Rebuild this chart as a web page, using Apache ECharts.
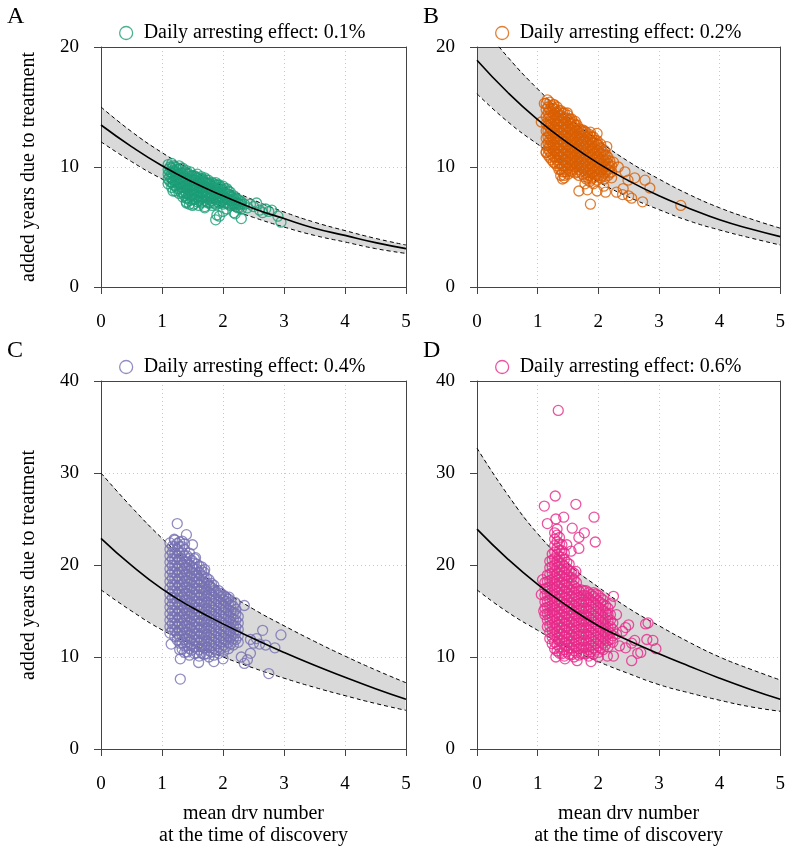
<!DOCTYPE html>
<html><head><meta charset="utf-8">
<script src="https://cdn.jsdelivr.net/npm/echarts@6/dist/echarts.min.js"></script>
<style>html,body{margin:0;padding:0;background:#fff}#c{width:788px;height:848px}</style>
</head><body><div id="c"></div>
<script>
// ---- curve x positions ----
const curveX = [0,0.5,1,1.5,2,2.5,3,3.5,4,4.5,5];
// ---- panel A (0.1%) ----
const aMid = [13.5,11.7,10.1,8.75,7.6,6.55,5.7,4.9,4.3,3.7,3.2];
const aUp  = [15.0,12.95,11.2,9.7,8.4,7.25,6.25,5.4,4.7,4.05,3.5];
const aLow = [12.1,10.45,9.0,7.8,6.7,5.8,5.0,4.3,3.75,3.2,2.8];
// ---- panel B (0.2%) ----
const bMid = [18.9,16.25,13.95,12.0,10.3,8.85,7.6,6.55,5.6,4.85,4.2];
const bUp  = [22.3,19.2,16.5,14.15,12.2,10.45,9.0,7.7,6.6,5.7,4.9];
const bLow = [16.1,13.8,11.9,10.2,8.75,7.5,6.45,5.5,4.75,4.1,3.5];
// ---- panel C (0.4%) ----
const cMid = [22.9,19.95,17.4,15.35,13.6,12.0,10.5,9.1,7.8,6.55,5.4];
const cUp  = [30.0,26.3,22.9,19.9,17.3,15.2,13.4,11.7,10.1,8.6,7.2];
const cLow = [17.3,15.0,12.95,11.35,10.0,8.8,7.7,6.7,5.8,4.95,4.2];
// ---- panel D (0.6%) ----
const dMid = [23.9,20.7,17.9,15.5,13.4,11.8,10.35,9.0,7.7,6.5,5.4];
const dUp  = [32.7,27.7,23.4,20.1,17.6,15.3,13.4,11.6,10.0,8.7,7.5];
const dLow = [17.3,14.9,12.9,11.0,9.5,8.2,7.0,6.1,5.3,4.6,4.1];

// ---- scatter points [mean drv number, added years] ----
const ptsA = [
[1.10,8.6],[1.10,9.0],[1.10,9.4],[1.10,9.8],[1.10,10.2],
[1.16,8.3],[1.16,8.7],[1.16,9.1],[1.16,9.5],[1.16,9.9],[1.16,10.3],
[1.22,8.0],[1.22,8.4],[1.22,8.8],[1.22,9.2],[1.22,9.6],[1.22,10.0],
[1.28,7.8],[1.28,8.2],[1.28,8.6],[1.28,9.0],[1.28,9.4],[1.28,9.8],[1.28,10.1],
[1.34,7.5],[1.34,7.9],[1.34,8.3],[1.34,8.7],[1.34,9.1],[1.34,9.5],[1.34,9.9],
[1.40,7.0],[1.40,7.4],[1.40,7.8],[1.40,8.2],[1.40,8.6],[1.40,9.0],[1.40,9.4],[1.40,9.7],
[1.46,7.2],[1.46,7.6],[1.46,8.0],[1.46,8.4],[1.46,8.8],[1.46,9.2],[1.46,9.6],
[1.52,6.9],[1.52,7.3],[1.52,7.7],[1.52,8.1],[1.52,8.5],[1.52,8.9],[1.52,9.3],
[1.58,7.1],[1.58,7.5],[1.58,7.9],[1.58,8.3],[1.58,8.7],[1.58,9.1],[1.58,9.4],
[1.64,7.0],[1.64,7.4],[1.64,7.8],[1.64,8.2],[1.64,8.6],[1.64,9.0],[1.64,9.2],
[1.70,6.7],[1.70,7.2],[1.70,7.6],[1.70,8.0],[1.70,8.4],[1.70,8.8],[1.70,9.1],
[1.76,7.0],[1.76,7.4],[1.76,7.8],[1.76,8.2],[1.76,8.6],[1.76,8.9],
[1.82,6.8],[1.82,7.2],[1.82,7.6],[1.82,8.0],[1.82,8.4],[1.82,8.7],
[1.88,5.6],[1.88,6.9],[1.88,7.3],[1.88,7.7],[1.88,8.1],[1.88,8.5],[1.88,8.7],
[1.94,5.9],[1.94,7.0],[1.94,7.4],[1.94,7.8],[1.94,8.2],[1.94,8.5],
[2.00,6.9],[2.00,7.3],[2.00,7.7],[2.00,8.1],[2.00,8.4],
[2.06,6.5],[2.06,7.0],[2.06,7.4],[2.06,7.8],[2.06,8.2],
[2.12,6.8],[2.12,7.2],[2.12,7.6],[2.12,7.9],
[2.18,6.2],[2.18,6.9],[2.18,7.3],[2.18,7.6],
[2.24,6.6],[2.24,7.0],[2.24,7.3],
[2.30,5.7],[2.30,6.5],[2.30,6.9],[2.30,7.1],
[1.18,8.0],[1.45,6.9],[1.50,6.8],[1.40,7.1],[1.70,6.6],[1.90,6.0],[2.00,6.3],
[2.40,6.6],[2.45,6.9],[2.50,6.7],[2.55,7.0],[2.60,6.4],[2.65,6.2],[2.70,6.5],
[2.75,6.3],[2.80,6.4],[2.90,5.9],[2.95,5.4],[2.35,6.9],[2.20,6.1],[1.60,6.8]
];
const ptsA2 = [
[1.13,8.8],[1.13,9.2],[1.13,9.6],[1.13,10.0],
[1.19,8.5],[1.19,8.9],[1.19,9.3],[1.19,9.7],[1.19,10.1],
[1.25,8.2],[1.25,8.6],[1.25,9.0],[1.25,9.4],[1.25,9.8],
[1.31,7.9],[1.31,8.3],[1.31,8.7],[1.31,9.1],[1.31,9.5],[1.31,9.9],
[1.37,7.6],[1.37,8.0],[1.37,8.4],[1.37,8.8],[1.37,9.2],[1.37,9.6],
[1.43,7.4],[1.43,7.8],[1.43,8.2],[1.43,8.6],[1.43,9.0],[1.43,9.4],
[1.49,7.3],[1.49,7.7],[1.49,8.1],[1.49,8.5],[1.49,8.9],[1.49,9.3],
[1.55,7.3],[1.55,7.7],[1.55,8.1],[1.55,8.5],[1.55,8.9],[1.55,9.2],
[1.61,7.2],[1.61,7.6],[1.61,8.0],[1.61,8.4],[1.61,8.8],[1.61,9.1],
[1.67,7.1],[1.67,7.5],[1.67,7.9],[1.67,8.3],[1.67,8.7],[1.67,9.0],
[1.73,7.1],[1.73,7.5],[1.73,7.9],[1.73,8.3],[1.73,8.7],[1.73,8.9],
[1.79,7.0],[1.79,7.4],[1.79,7.8],[1.79,8.2],[1.79,8.6],
[1.85,7.0],[1.85,7.4],[1.85,7.8],[1.85,8.2],[1.85,8.6],
[1.91,7.1],[1.91,7.5],[1.91,7.9],[1.91,8.3],[1.91,8.5],
[1.97,7.1],[1.97,7.5],[1.97,7.9],[1.97,8.3],
[2.03,7.0],[2.03,7.4],[2.03,7.8],[2.03,8.2],
[2.09,6.9],[2.09,7.3],[2.09,7.7],[2.09,8.0],
[2.15,6.9],[2.15,7.2],[2.15,7.5],
[2.21,6.7],[2.21,7.0],[2.21,7.4],
[2.27,6.6],[2.27,6.9],[2.27,7.2]
];
const ptsB = [
[1.14,11.2],[1.14,11.8],[1.14,12.4],[1.14,13.0],[1.14,13.6],[1.14,14.2],[1.14,14.8],[1.14,15.3],
[1.20,10.8],[1.20,11.3],[1.20,11.8],[1.20,12.3],[1.20,12.8],[1.20,13.3],[1.20,13.8],[1.20,14.3],[1.20,14.8],[1.20,15.4],
[1.26,10.4],[1.26,10.9],[1.26,11.4],[1.26,11.9],[1.26,12.4],[1.26,12.9],[1.26,13.4],[1.26,13.9],[1.26,14.4],[1.26,14.9],[1.26,15.2],
[1.32,10.1],[1.32,10.6],[1.32,11.1],[1.32,11.6],[1.32,12.1],[1.32,12.6],[1.32,13.1],[1.32,13.6],[1.32,14.1],[1.32,14.6],[1.32,15.0],
[1.38,9.3],[1.38,9.8],[1.38,10.3],[1.38,10.8],[1.38,11.3],[1.38,11.8],[1.38,12.3],[1.38,12.8],[1.38,13.3],[1.38,13.8],[1.38,14.3],[1.38,14.7],
[1.44,9.1],[1.44,9.6],[1.44,10.1],[1.44,10.6],[1.44,11.1],[1.44,11.6],[1.44,12.1],[1.44,12.6],[1.44,13.1],[1.44,13.6],[1.44,14.1],[1.44,14.5],
[1.50,9.4],[1.50,9.9],[1.50,10.4],[1.50,10.9],[1.50,11.4],[1.50,11.9],[1.50,12.4],[1.50,12.9],[1.50,13.4],[1.50,13.9],[1.50,14.3],
[1.56,9.6],[1.56,10.1],[1.56,10.6],[1.56,11.1],[1.56,11.6],[1.56,12.1],[1.56,12.6],[1.56,13.1],[1.56,13.6],[1.56,14.0],
[1.62,9.5],[1.62,10.0],[1.62,10.5],[1.62,11.0],[1.62,11.5],[1.62,12.0],[1.62,12.5],[1.62,13.0],[1.62,13.5],[1.62,13.8],
[1.68,9.3],[1.68,9.8],[1.68,10.3],[1.68,10.8],[1.68,11.3],[1.68,11.8],[1.68,12.3],[1.68,12.8],[1.68,13.2],
[1.74,9.4],[1.74,9.9],[1.74,10.4],[1.74,10.9],[1.74,11.4],[1.74,11.9],[1.74,12.4],[1.74,12.9],[1.74,13.1],
[1.80,9.0],[1.80,9.5],[1.80,10.0],[1.80,10.5],[1.80,11.0],[1.80,11.5],[1.80,12.0],[1.80,12.5],[1.80,12.9],
[1.86,8.8],[1.86,9.3],[1.86,9.8],[1.86,10.3],[1.86,10.8],[1.86,11.3],[1.86,11.8],[1.86,12.3],[1.86,12.7],
[1.92,8.6],[1.92,9.1],[1.92,9.6],[1.92,10.1],[1.92,10.6],[1.92,11.1],[1.92,11.6],[1.92,12.1],[1.92,12.5],
[1.98,8.9],[1.98,9.4],[1.98,9.9],[1.98,10.4],[1.98,10.9],[1.98,11.4],[1.98,11.9],[1.98,12.2],
[2.04,9.1],[2.04,9.6],[2.04,10.1],[2.04,10.6],[2.04,11.1],[2.04,11.6],[2.04,11.9],
[2.10,9.0],[2.10,9.5],[2.10,10.0],[2.10,10.5],[2.10,11.0],[2.10,11.4],
[2.16,9.3],[2.16,9.8],[2.16,10.3],[2.16,10.8],
[2.22,9.1],[2.22,9.6],[2.22,10.1],
[1.06,13.75],[1.11,15.3],[1.16,15.6],[1.27,15.2],[1.49,14.5],[1.87,12.9],[1.98,12.8],[2.14,11.7],
[1.14,11.25],[1.41,9.0],[1.44,9.3],[1.68,8.0],[1.78,8.6],[1.82,8.1],[1.87,6.9],[1.98,8.0],
[2.09,8.4],[2.12,7.9],[2.30,7.9],[2.33,10.0],[2.41,8.2],[2.44,9.6],[2.49,8.9],[2.50,7.6],
[2.55,7.4],[2.60,9.1],[2.73,7.1],[2.77,8.9],[2.85,8.25],[3.36,6.8],[2.25,10.4],[2.40,7.7]
];
const ptsB2 = [
[1.17,11.0],[1.17,11.5],[1.17,12.0],[1.17,12.5],[1.17,13.0],[1.17,13.5],[1.17,14.0],[1.17,14.5],[1.17,15.0],
[1.23,10.6],[1.23,11.1],[1.23,11.6],[1.23,12.1],[1.23,12.6],[1.23,13.1],[1.23,13.6],[1.23,14.1],[1.23,14.6],[1.23,15.1],
[1.29,10.3],[1.29,10.8],[1.29,11.3],[1.29,11.8],[1.29,12.3],[1.29,12.8],[1.29,13.3],[1.29,13.8],[1.29,14.3],[1.29,14.8],
[1.35,9.8],[1.35,10.3],[1.35,10.8],[1.35,11.3],[1.35,11.8],[1.35,12.3],[1.35,12.8],[1.35,13.3],[1.35,13.8],[1.35,14.3],[1.35,14.7],
[1.41,9.6],[1.41,10.1],[1.41,10.6],[1.41,11.1],[1.41,11.6],[1.41,12.1],[1.41,12.6],[1.41,13.1],[1.41,13.6],[1.41,14.1],[1.41,14.5],
[1.47,9.6],[1.47,10.1],[1.47,10.6],[1.47,11.1],[1.47,11.6],[1.47,12.1],[1.47,12.6],[1.47,13.1],[1.47,13.6],[1.47,14.1],
[1.53,9.7],[1.53,10.2],[1.53,10.7],[1.53,11.2],[1.53,11.7],[1.53,12.2],[1.53,12.7],[1.53,13.2],[1.53,13.7],[1.53,14.0],
[1.59,9.8],[1.59,10.3],[1.59,10.8],[1.59,11.3],[1.59,11.8],[1.59,12.3],[1.59,12.8],[1.59,13.3],[1.59,13.7],
[1.65,9.6],[1.65,10.1],[1.65,10.6],[1.65,11.1],[1.65,11.6],[1.65,12.1],[1.65,12.6],[1.65,13.1],[1.65,13.5],
[1.71,9.6],[1.71,10.1],[1.71,10.6],[1.71,11.1],[1.71,11.6],[1.71,12.1],[1.71,12.6],[1.71,13.1],
[1.77,9.2],[1.77,9.7],[1.77,10.2],[1.77,10.7],[1.77,11.2],[1.77,11.7],[1.77,12.2],[1.77,12.7],[1.77,13.0],
[1.83,9.1],[1.83,9.6],[1.83,10.1],[1.83,10.6],[1.83,11.1],[1.83,11.6],[1.83,12.1],[1.83,12.6],
[1.89,9.0],[1.89,9.5],[1.89,10.0],[1.89,10.5],[1.89,11.0],[1.89,11.5],[1.89,12.0],[1.89,12.5],
[1.95,9.2],[1.95,9.7],[1.95,10.2],[1.95,10.7],[1.95,11.2],[1.95,11.7],[1.95,12.2],
[2.01,9.3],[2.01,9.8],[2.01,10.3],[2.01,10.8],[2.01,11.3],[2.01,11.8],
[2.07,9.3],[2.07,9.8],[2.07,10.3],[2.07,10.8],[2.07,11.3],
[2.13,9.6],[2.13,10.1],[2.13,10.6],[2.13,11.0],
[2.19,9.5],[2.19,10.0],[2.19,10.5]
];
const ptsC = [
[1.13,12.6],[1.13,13.3],[1.13,14.0],[1.13,14.7],[1.13,15.4],[1.13,16.1],[1.13,16.8],[1.13,17.5],[1.13,18.2],[1.13,18.9],[1.13,19.6],[1.13,20.3],[1.13,21.0],[1.13,21.7],[1.13,22.4],
[1.21,12.2],[1.21,12.9],[1.21,13.6],[1.21,14.3],[1.21,15.0],[1.21,15.7],[1.21,16.4],[1.21,17.1],[1.21,17.8],[1.21,18.5],[1.21,19.2],[1.21,19.9],[1.21,20.6],[1.21,21.3],[1.21,22.0],[1.21,22.7],
[1.29,10.8],[1.29,11.5],[1.29,12.2],[1.29,12.9],[1.29,13.6],[1.29,14.3],[1.29,15.0],[1.29,15.7],[1.29,16.4],[1.29,17.1],[1.29,17.8],[1.29,18.5],[1.29,19.2],[1.29,19.9],[1.29,20.6],[1.29,21.3],[1.29,22.0],[1.29,22.5],
[1.37,10.5],[1.37,11.2],[1.37,11.9],[1.37,12.6],[1.37,13.3],[1.37,14.0],[1.37,14.7],[1.37,15.4],[1.37,16.1],[1.37,16.8],[1.37,17.5],[1.37,18.2],[1.37,18.9],[1.37,19.6],[1.37,20.3],[1.37,21.0],[1.37,21.7],[1.37,22.3],
[1.45,10.2],[1.45,10.9],[1.45,11.6],[1.45,12.3],[1.45,13.0],[1.45,13.7],[1.45,14.4],[1.45,15.1],[1.45,15.8],[1.45,16.5],[1.45,17.2],[1.45,17.9],[1.45,18.6],[1.45,19.3],[1.45,20.0],[1.45,20.7],[1.45,21.3],
[1.53,10.4],[1.53,11.1],[1.53,11.8],[1.53,12.5],[1.53,13.2],[1.53,13.9],[1.53,14.6],[1.53,15.3],[1.53,16.0],[1.53,16.7],[1.53,17.4],[1.53,18.1],[1.53,18.8],[1.53,19.5],[1.53,20.2],[1.53,20.7],
[1.61,10.1],[1.61,10.8],[1.61,11.5],[1.61,12.2],[1.61,12.9],[1.61,13.6],[1.61,14.3],[1.61,15.0],[1.61,15.7],[1.61,16.4],[1.61,17.1],[1.61,17.8],[1.61,18.5],[1.61,19.2],[1.61,19.9],
[1.69,10.3],[1.69,11.0],[1.69,11.7],[1.69,12.4],[1.69,13.1],[1.69,13.8],[1.69,14.5],[1.69,15.2],[1.69,15.9],[1.69,16.6],[1.69,17.3],[1.69,18.0],[1.69,18.7],[1.69,19.2],
[1.77,10.0],[1.77,10.7],[1.77,11.4],[1.77,12.1],[1.77,12.8],[1.77,13.5],[1.77,14.2],[1.77,14.9],[1.77,15.6],[1.77,16.3],[1.77,17.0],[1.77,17.7],[1.77,18.4],
[1.85,10.2],[1.85,10.9],[1.85,11.6],[1.85,12.3],[1.85,13.0],[1.85,13.7],[1.85,14.4],[1.85,15.1],[1.85,15.8],[1.85,16.5],[1.85,17.2],[1.85,17.8],
[1.93,10.4],[1.93,11.1],[1.93,11.8],[1.93,12.5],[1.93,13.2],[1.93,13.9],[1.93,14.6],[1.93,15.3],[1.93,16.0],[1.93,16.7],[1.93,17.2],
[2.01,10.6],[2.01,11.3],[2.01,12.0],[2.01,12.7],[2.01,13.4],[2.01,14.1],[2.01,14.8],[2.01,15.5],[2.01,16.2],[2.01,16.7],
[2.09,10.9],[2.09,11.6],[2.09,12.3],[2.09,13.0],[2.09,13.7],[2.09,14.4],[2.09,15.1],[2.09,15.8],[2.09,16.3],
[2.17,11.3],[2.17,12.0],[2.17,12.7],[2.17,13.4],[2.17,14.1],[2.17,14.8],[2.17,15.5],
[2.25,11.6],[2.25,12.3],[2.25,13.0],[2.25,13.7],[2.25,14.4],
[1.25,24.5],[1.40,23.3],[1.50,22.2],[1.33,22.6],[1.55,20.8],[1.65,19.8],[1.70,19.5],[1.78,17.8],
[2.10,16.5],[2.20,15.9],[2.35,15.6],[2.50,11.5],[2.55,12.0],[2.45,11.9],[2.60,11.4],[2.65,12.9],
[2.70,11.3],[2.95,12.4],[2.85,11.0],[2.75,8.2],[2.35,9.3],[2.40,9.7],[2.45,10.4],[2.30,10.0],
[1.30,7.6],[1.30,9.8],[1.60,9.4],[1.85,9.5],[2.00,9.8],[1.15,11.4],[1.20,22.8]
];
const ptsC2 = [
[1.17,12.95],[1.17,13.65],[1.17,14.35],[1.17,15.05],[1.17,15.75],[1.17,16.45],[1.17,17.15],[1.17,17.85],[1.17,18.55],[1.17,19.25],[1.17,19.95],[1.17,20.65],[1.17,21.35],[1.17,22.05],
[1.25,11.85],[1.25,12.55],[1.25,13.25],[1.25,13.95],[1.25,14.65],[1.25,15.35],[1.25,16.05],[1.25,16.75],[1.25,17.45],[1.25,18.15],[1.25,18.85],[1.25,19.55],[1.25,20.25],[1.25,20.95],[1.25,21.65],[1.25,22.35],
[1.33,10.85],[1.33,11.55],[1.33,12.25],[1.33,12.95],[1.33,13.65],[1.33,14.35],[1.33,15.05],[1.33,15.75],[1.33,16.45],[1.33,17.15],[1.33,17.85],[1.33,18.55],[1.33,19.25],[1.33,19.95],[1.33,20.65],[1.33,21.35],[1.33,22.0],
[1.41,10.55],[1.41,11.25],[1.41,11.95],[1.41,12.65],[1.41,13.35],[1.41,14.05],[1.41,14.75],[1.41,15.45],[1.41,16.15],[1.41,16.85],[1.41,17.55],[1.41,18.25],[1.41,18.95],[1.41,19.65],[1.41,20.35],[1.41,21.0],
[1.49,10.75],[1.49,11.45],[1.49,12.15],[1.49,12.85],[1.49,13.55],[1.49,14.25],[1.49,14.95],[1.49,15.65],[1.49,16.35],[1.49,17.05],[1.49,17.75],[1.49,18.45],[1.49,19.15],[1.49,19.85],[1.49,20.5],
[1.57,10.45],[1.57,11.15],[1.57,11.85],[1.57,12.55],[1.57,13.25],[1.57,13.95],[1.57,14.65],[1.57,15.35],[1.57,16.05],[1.57,16.75],[1.57,17.45],[1.57,18.15],[1.57,18.85],[1.57,19.55],[1.57,20.1],
[1.65,10.45],[1.65,11.15],[1.65,11.85],[1.65,12.55],[1.65,13.25],[1.65,13.95],[1.65,14.65],[1.65,15.35],[1.65,16.05],[1.65,16.75],[1.65,17.45],[1.65,18.15],[1.65,18.85],[1.65,19.4],
[1.73,10.35],[1.73,11.05],[1.73,11.75],[1.73,12.45],[1.73,13.15],[1.73,13.85],[1.73,14.55],[1.73,15.25],[1.73,15.95],[1.73,16.65],[1.73,17.35],[1.73,18.05],[1.73,18.6],
[1.81,10.55],[1.81,11.25],[1.81,11.95],[1.81,12.65],[1.81,13.35],[1.81,14.05],[1.81,14.75],[1.81,15.45],[1.81,16.15],[1.81,16.85],[1.81,17.55],[1.81,18.0],
[1.89,10.75],[1.89,11.45],[1.89,12.15],[1.89,12.85],[1.89,13.55],[1.89,14.25],[1.89,14.95],[1.89,15.65],[1.89,16.35],[1.89,17.0],
[1.97,10.95],[1.97,11.65],[1.97,12.35],[1.97,13.05],[1.97,13.75],[1.97,14.45],[1.97,15.15],[1.97,15.85],[1.97,16.55],[1.97,16.9],
[2.05,11.15],[2.05,11.85],[2.05,12.55],[2.05,13.25],[2.05,13.95],[2.05,14.65],[2.05,15.35],[2.05,16.05],[2.05,16.5],
[2.13,11.45],[2.13,12.15],[2.13,12.85],[2.13,13.55],[2.13,14.25],[2.13,14.95],[2.13,15.65],[2.13,16.0],
[2.21,11.9],[2.21,12.6],[2.21,13.3],[2.21,14.0],[2.21,14.7],[2.21,15.2]
];
const ptsD = [
[1.12,14.6],[1.12,15.3],[1.12,16.0],[1.12,16.7],[1.12,17.4],[1.12,18.1],
[1.20,12.0],[1.20,12.7],[1.20,13.4],[1.20,14.1],[1.20,14.8],[1.20,15.5],[1.20,16.2],[1.20,16.9],[1.20,17.6],[1.20,18.3],[1.20,19.0],[1.20,19.7],[1.20,20.4],
[1.28,10.9],[1.28,11.6],[1.28,12.3],[1.28,13.0],[1.28,13.7],[1.28,14.4],[1.28,15.1],[1.28,15.8],[1.28,16.5],[1.28,17.2],[1.28,17.9],[1.28,18.6],[1.28,19.3],[1.28,20.0],[1.28,20.7],[1.28,21.4],[1.28,22.1],[1.28,22.8],[1.28,23.5],
[1.36,10.4],[1.36,11.1],[1.36,11.8],[1.36,12.5],[1.36,13.2],[1.36,13.9],[1.36,14.6],[1.36,15.3],[1.36,16.0],[1.36,16.7],[1.36,17.4],[1.36,18.1],[1.36,18.8],[1.36,19.5],[1.36,20.2],[1.36,20.9],[1.36,21.6],[1.36,22.3],[1.36,23.0],
[1.44,10.1],[1.44,10.8],[1.44,11.5],[1.44,12.2],[1.44,12.9],[1.44,13.6],[1.44,14.3],[1.44,15.0],[1.44,15.7],[1.44,16.4],[1.44,17.1],[1.44,17.8],[1.44,18.5],[1.44,19.2],[1.44,19.9],[1.44,20.6],[1.44,21.3],
[1.52,10.3],[1.52,11.0],[1.52,11.7],[1.52,12.4],[1.52,13.1],[1.52,13.8],[1.52,14.5],[1.52,15.2],[1.52,15.9],[1.52,16.6],[1.52,17.3],[1.52,18.0],[1.52,18.7],[1.52,19.4],[1.52,20.1],
[1.60,10.0],[1.60,10.7],[1.60,11.4],[1.60,12.1],[1.60,12.8],[1.60,13.5],[1.60,14.2],[1.60,14.9],[1.60,15.6],[1.60,16.3],[1.60,17.0],[1.60,17.7],[1.60,18.4],[1.60,19.1],
[1.68,10.2],[1.68,10.9],[1.68,11.6],[1.68,12.3],[1.68,13.0],[1.68,13.7],[1.68,14.4],[1.68,15.1],[1.68,15.8],[1.68,16.5],[1.68,17.2],
[1.76,10.4],[1.76,11.1],[1.76,11.8],[1.76,12.5],[1.76,13.2],[1.76,13.9],[1.76,14.6],[1.76,15.3],[1.76,16.0],[1.76,16.7],[1.76,17.2],
[1.84,10.1],[1.84,10.8],[1.84,11.5],[1.84,12.2],[1.84,12.9],[1.84,13.6],[1.84,14.3],[1.84,15.0],[1.84,15.7],[1.84,16.4],[1.84,17.0],
[1.92,10.3],[1.92,11.0],[1.92,11.7],[1.92,12.4],[1.92,13.1],[1.92,13.8],[1.92,14.5],[1.92,15.2],[1.92,15.9],[1.92,16.6],[1.92,17.0],
[2.00,10.5],[2.00,11.2],[2.00,11.9],[2.00,12.6],[2.00,13.3],[2.00,14.0],[2.00,14.7],[2.00,15.4],[2.00,16.1],[2.00,16.7],
[2.08,10.8],[2.08,11.5],[2.08,12.2],[2.08,12.9],[2.08,13.6],[2.08,14.3],[2.08,15.0],[2.08,15.7],[2.08,16.2],
[2.16,11.1],[2.16,11.8],[2.16,12.5],[2.16,13.2],[2.16,13.9],[2.16,14.6],[2.16,15.3],
[2.24,11.6],[2.24,12.3],[2.24,13.0],[2.24,13.7],
[1.34,36.8],[1.29,27.5],[1.11,26.4],[1.63,26.6],[1.93,25.2],[1.95,22.5],[1.68,21.8],[1.77,23.5],
[1.68,23.0],[1.57,24.0],[1.43,25.2],[1.16,24.5],[1.30,25.0],[1.55,21.5],[1.48,22.2],[1.63,19.3],
[1.08,18.4],[1.06,16.8],[1.10,15.0],[1.30,10.0],[1.45,9.8],[1.65,9.6],[1.88,9.5],[2.00,10.0],
[2.15,10.1],[2.25,10.1],[2.30,12.5],[2.35,11.2],[2.40,12.8],[2.45,13.2],[2.50,13.5],[2.55,11.5],
[2.60,11.8],[2.65,10.4],[2.70,10.5],[2.55,9.6],[2.78,13.6],[2.82,13.7],[2.80,11.9],[2.90,11.8],
[2.95,10.9],[2.45,11.0],[2.30,14.6],[2.25,16.6],[2.20,15.8]
];
const ptsD2 = [
[1.16,13.3],[1.16,14.0],[1.16,14.7],[1.16,15.4],[1.16,16.1],[1.16,16.8],[1.16,17.5],[1.16,18.2],[1.16,18.9],
[1.24,11.45],[1.24,12.15],[1.24,12.85],[1.24,13.55],[1.24,14.25],[1.24,14.95],[1.24,15.65],[1.24,16.35],[1.24,17.05],[1.24,17.75],[1.24,18.45],[1.24,19.15],[1.24,19.85],[1.24,20.55],[1.24,21.2],
[1.32,10.65],[1.32,11.35],[1.32,12.05],[1.32,12.75],[1.32,13.45],[1.32,14.15],[1.32,14.85],[1.32,15.55],[1.32,16.25],[1.32,16.95],[1.32,17.65],[1.32,18.35],[1.32,19.05],[1.32,19.75],[1.32,20.45],[1.32,21.15],[1.32,21.85],[1.32,22.55],[1.32,23.25],[1.32,23.9],
[1.40,10.35],[1.40,11.05],[1.40,11.75],[1.40,12.45],[1.40,13.15],[1.40,13.85],[1.40,14.55],[1.40,15.25],[1.40,15.95],[1.40,16.65],[1.40,17.35],[1.40,18.05],[1.40,18.75],[1.40,19.45],[1.40,20.15],[1.40,20.85],[1.40,21.55],[1.40,22.2],
[1.48,10.55],[1.48,11.25],[1.48,11.95],[1.48,12.65],[1.48,13.35],[1.48,14.05],[1.48,14.75],[1.48,15.45],[1.48,16.15],[1.48,16.85],[1.48,17.55],[1.48,18.25],[1.48,18.95],[1.48,19.65],[1.48,20.3],
[1.56,10.25],[1.56,10.95],[1.56,11.65],[1.56,12.35],[1.56,13.05],[1.56,13.75],[1.56,14.45],[1.56,15.15],[1.56,15.85],[1.56,16.55],[1.56,17.25],[1.56,17.95],[1.56,18.65],[1.56,19.3],
[1.64,10.45],[1.64,11.15],[1.64,11.85],[1.64,12.55],[1.64,13.25],[1.64,13.95],[1.64,14.65],[1.64,15.35],[1.64,16.05],[1.64,16.75],[1.64,17.45],[1.64,18.1],
[1.72,10.35],[1.72,11.05],[1.72,11.75],[1.72,12.45],[1.72,13.15],[1.72,13.85],[1.72,14.55],[1.72,15.25],[1.72,15.95],[1.72,16.65],[1.72,17.3],
[1.80,10.35],[1.80,11.05],[1.80,11.75],[1.80,12.45],[1.80,13.15],[1.80,13.85],[1.80,14.55],[1.80,15.25],[1.80,15.95],[1.80,16.65],[1.80,17.2],
[1.88,10.55],[1.88,11.25],[1.88,11.95],[1.88,12.65],[1.88,13.35],[1.88,14.05],[1.88,14.75],[1.88,15.45],[1.88,16.15],[1.88,16.8],
[1.96,10.75],[1.96,11.45],[1.96,12.15],[1.96,12.85],[1.96,13.55],[1.96,14.25],[1.96,14.95],[1.96,15.65],[1.96,16.35],[1.96,16.85],
[2.04,11.0],[2.04,11.7],[2.04,12.4],[2.04,13.1],[2.04,13.8],[2.04,14.5],[2.04,15.2],[2.04,15.9],[2.04,16.4],
[2.12,11.3],[2.12,12.0],[2.12,12.7],[2.12,13.4],[2.12,14.1],[2.12,14.8],[2.12,15.6],
[2.20,11.9],[2.20,12.6],[2.20,13.3],[2.20,14.0],[2.20,14.6]
];

const names = ['Daily arresting effect: 0.1%','Daily arresting effect: 0.2%','Daily arresting effect: 0.4%','Daily arresting effect: 0.6%'];
const colors = ['#1b9e77','#d95f02','#7570b3','#e7298a'];
const letters = ['A','B','C','D'];
const yMax = [20,20,40,40];

const FONT = 'Liberation Serif';
const grids = [
  {left:101, top:47, width:305, height:240},
  {left:477, top:47, width:307, height:240},
  {left:101, top:381, width:305, height:372},
  {left:477, top:381, width:307, height:372}
];
const panels = [
  {pts:ptsA.concat(ptsA2), mid:aMid, up:aUp, low:aLow},
  {pts:ptsB.concat(ptsB2), mid:bMid, up:bUp, low:bLow},
  {pts:ptsC.concat(ptsC2), mid:cMid, up:cUp, low:cLow},
  {pts:ptsD.concat(ptsD2), mid:dMid, up:dUp, low:dLow}
];
const axisCol = '#444';
const split = {show:true, lineStyle:{color:'#c8c8c8', type:[1,3], width:1}};

const xAxis = [], yAxis = [], series = [], legend = [], title = [];
grids.forEach((g,i)=>{
  xAxis.push({type:'value', gridIndex:i, min:0, max:5, interval:1,
    axisLine:{show:true, onZero:false, lineStyle:{color:axisCol, width:1}},
    axisTick:{show:true, length:7, lineStyle:{color:axisCol}},
    axisLabel:{margin:26, fontSize:19, color:'#000', fontFamily:FONT},
    splitLine:split,
    name: i>=2 ? 'mean drv number\nat the time of discovery' : '',
    nameLocation:'middle', nameGap:54,
    nameTextStyle:{fontSize:20, color:'#000', fontFamily:FONT, lineHeight:22}
  });
  xAxis.push({type:'value', gridIndex:i, min:0, max:5, position:'top',
    axisLine:{show:true, onZero:false, lineStyle:{color:axisCol, width:1}},
    axisTick:{show:false}, axisLabel:{show:false}, splitLine:{show:false}});
  yAxis.push({type:'value', gridIndex:i, min:0, max:yMax[i], interval:10,
    axisLine:{show:true, onZero:false, lineStyle:{color:axisCol, width:1}},
    axisTick:{show:true, length:7, lineStyle:{color:axisCol}},
    axisLabel:{margin:22, fontSize:19, color:'#000', fontFamily:FONT},
    splitLine:split,
    name: (i%2===0) ? 'added years due to treatment' : '',
    nameLocation:'middle', nameGap:62,
    nameTextStyle:{fontSize:20, color:'#000', fontFamily:FONT}
  });
  yAxis.push({type:'value', gridIndex:i, min:0, max:yMax[i], position:'right',
    axisLine:{show:true, onZero:false, lineStyle:{color:axisCol, width:1}},
    axisTick:{show:false}, axisLabel:{show:false}, splitLine:{show:false}});

  const p = panels[i];
  const xi = i*2, yi = i*2;
  // confidence band polygon, positioned by the axes
  series.push({type:'custom', xAxisIndex:xi, yAxisIndex:yi, silent:true, z:1,
    data: curveX.map((x,j)=>[x, p.low[j], p.up[j]]),
    encode:{x:0, y:[1,2]},
    renderItem:(params, api)=>{
      if (params.dataIndex !== 0) return null;
      const top = curveX.map((x,j)=>api.coord([x, p.up[j]]));
      const bot = curveX.map((x,j)=>api.coord([x, p.low[j]])).reverse();
      const cs = params.coordSys;
      return {type:'polygon', shape:{points: top.concat(bot)},
        style:{fill:'#d9d9d9', stroke:null},
        clipPath:{type:'rect', shape:{x:cs.x+1, y:cs.y+1, width:cs.width-1.5, height:cs.height-1.5}}};
    }});
  series.push({type:'line', xAxisIndex:xi, yAxisIndex:yi, smooth:true, symbol:'none',
    data: curveX.map((x,j)=>[x,p.low[j]]), silent:true, z:2,
    lineStyle:{color:'#000', width:1, type:[4,3]}});
  series.push({type:'line', xAxisIndex:xi, yAxisIndex:yi, smooth:true, symbol:'none',
    data: curveX.map((x,j)=>[x,p.up[j]]), silent:true, z:2,
    lineStyle:{color:'#000', width:1, type:[4,3]}});
  series.push({type:'scatter', name:names[i], xAxisIndex:xi, yAxisIndex:yi, data:p.pts, z:3,
    symbol:'circle', symbolSize:10,
    itemStyle:{color:'rgba(0,0,0,0)', borderColor:colors[i], borderWidth:1.3}});
  series.push({type:'line', xAxisIndex:xi, yAxisIndex:yi, smooth:true, symbol:'none',
    data: curveX.map((x,j)=>[x,p.mid[j]]), silent:true, z:5,
    lineStyle:{color:'#000', width:1.6}});

  legend.push({data:[names[i]], left:g.left+18, top:g.top-24, padding:0, icon:'circle', itemWidth:13, itemHeight:13,
    selectedMode:false,
    itemStyle:{color:'rgba(0,0,0,0)', borderColor:colors[i], borderWidth:1.3},
    textStyle:{fontSize:20, color:'#000', fontFamily:FONT, padding:[0,0,0,6]}});
  title.push({text:letters[i], left:(i%2===0)?2:418, top:g.top-47,
    textStyle:{fontSize:24, fontWeight:'normal', color:'#000', fontFamily:FONT}});
});

const chart = echarts.init(document.getElementById('c'), null, {renderer:'canvas'});
chart.setOption({animation:false, backgroundColor:'#fff', title, legend, grid:grids, xAxis, yAxis, series});
</script></body></html>
